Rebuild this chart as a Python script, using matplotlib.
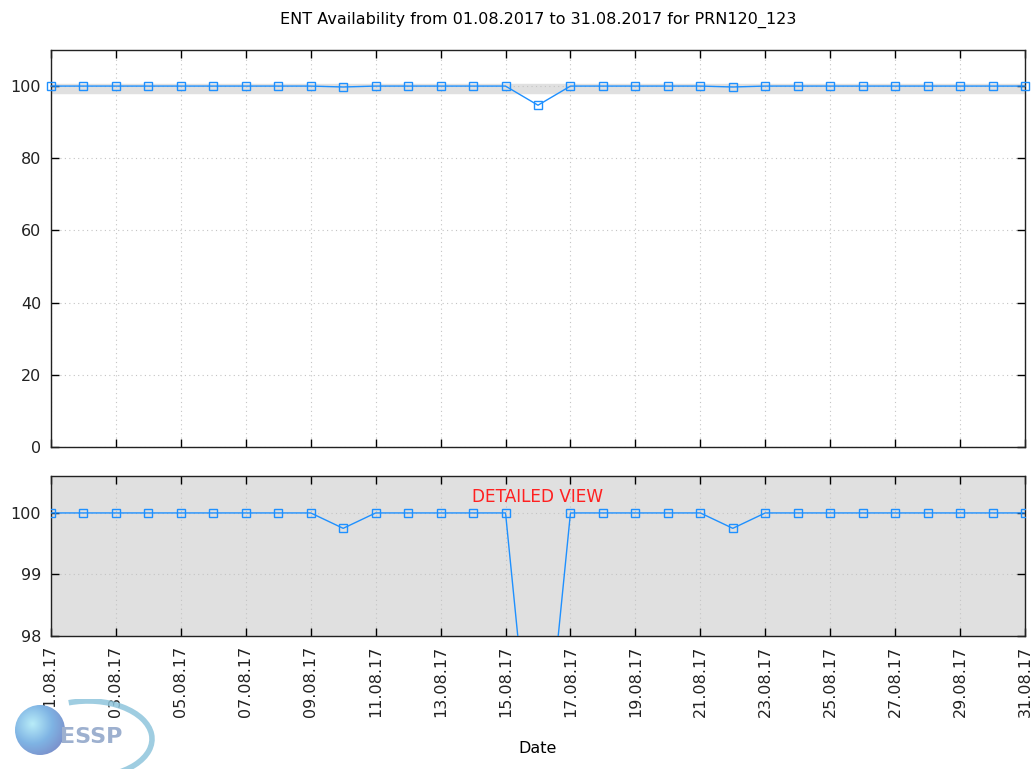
import datetime
import numpy as np
import matplotlib
matplotlib.use("Agg")
import matplotlib.pyplot as plt
import matplotlib.dates as mdates
from matplotlib.patches import Circle, Arc
from matplotlib.colors import LinearSegmentedColormap

# daily availability (%) for August 2017
days = [datetime.date(2017, 8, d) for d in range(1, 32)]
availability = [100, 100, 100, 100, 100, 100, 100, 100, 100, 99.75,
                100, 100, 100, 100, 100, 94.7, 100, 100, 100, 100,
                100, 99.75, 100, 100, 100, 100, 100, 100, 100, 100,
                100]

title = "ENT Availability from 01.08.2017 to 31.08.2017 for PRN120_123"
top_yticks = [0, 20, 40, 60, 80, 100]
detail_yticks = [98, 99, 100]
detail_range = (98, 100.6)

line_color = "#1e90ff"
grey = "#e0e0e0"

fig = plt.figure(figsize=(10.36, 7.69), dpi=100)
ax1 = fig.add_axes([0.0492, 0.4187, 0.9402, 0.5163])
ax2 = fig.add_axes([0.0492, 0.1729, 0.9402, 0.2081])

def style(ax):
    ax.tick_params(direction="in", length=6, width=1, top=True, right=True,
                   labelsize=11.5, colors="black", pad=7)
    ax.tick_params(labelcolor="#222222")
    for s in ax.spines.values():
        s.set_linewidth(1)
        s.set_color("#222222")
    ax.grid(True, linestyle=(0, (1, 3)), color="#c4c4c4", linewidth=0.8)
    ax.set_axisbelow(True)
    ax.xaxis.set_major_locator(mdates.DayLocator(bymonthday=range(1, 32, 2)))
    ax.xaxis.set_major_formatter(mdates.DateFormatter("%d.%m.%y"))
    ax.set_xlim(days[0], days[-1])

# top panel, full range
style(ax1)
ax1.axhspan(detail_range[0], detail_range[1], color=grey, zorder=0)
ax1.plot(days, availability, color=line_color, linewidth=1, marker="s",
         markersize=6, markerfacecolor="none", markeredgecolor=line_color,
         markeredgewidth=1, clip_on=False, zorder=3)
ax1.set_ylim(0, 110)
ax1.set_yticks(top_yticks)
ax1.tick_params(labelbottom=False)
ax1.set_title(title, fontsize=11.5, pad=19)

# bottom panel, detailed view
style(ax2)
ax2.set_facecolor(grey)
ax2.plot(days, availability, color=line_color, linewidth=1, marker="s",
         markersize=6, markerfacecolor="none", markeredgecolor=line_color,
         markeredgewidth=1, zorder=3)
ax2.set_ylim(*detail_range)
ax2.set_yticks(detail_yticks)
ax2.text(0.5, 0.87, "DETAILED VIEW", color="#ff2020", fontsize=12.2,
         ha="center", va="center", transform=ax2.transAxes)
for lbl in ax2.get_xticklabels():
    lbl.set_rotation(90)
ax2.set_xlabel("Date", fontsize=11.5, labelpad=17)

# ESSP logo (rough approximation), drawn in a pixel-scaled overlay axes
logo = fig.add_axes([0, 0, 160 / 1036, 70 / 769])
logo.set_xlim(0, 160)
logo.set_ylim(0, 70)
logo.axis("off")
logo.add_patch(Arc((88, 30), 128, 76, theta1=-95, theta2=118,
                   color="#8ec5dc", linewidth=4, alpha=0.85))
ball_cmap = LinearSegmentedColormap.from_list("ball", ["#b8ecf8", "#7fb4e4", "#7a86c4"])
yy, xx = np.mgrid[-1:1:100j, -1:1:100j]
shade = np.hypot(xx + 0.3, yy - 0.25)
img = logo.imshow(shade, cmap=ball_cmap, vmin=0, vmax=1.6,
                  extent=(15, 65, 14, 64), origin="lower", zorder=2)
ball = Circle((40, 39), 25, transform=logo.transData)
img.set_clip_path(ball)
logo.text(60, 26, "ESSP", color="#9db0cf", fontsize=16, fontweight="bold",
          zorder=3)

fig.savefig("out.png", dpi=100)
